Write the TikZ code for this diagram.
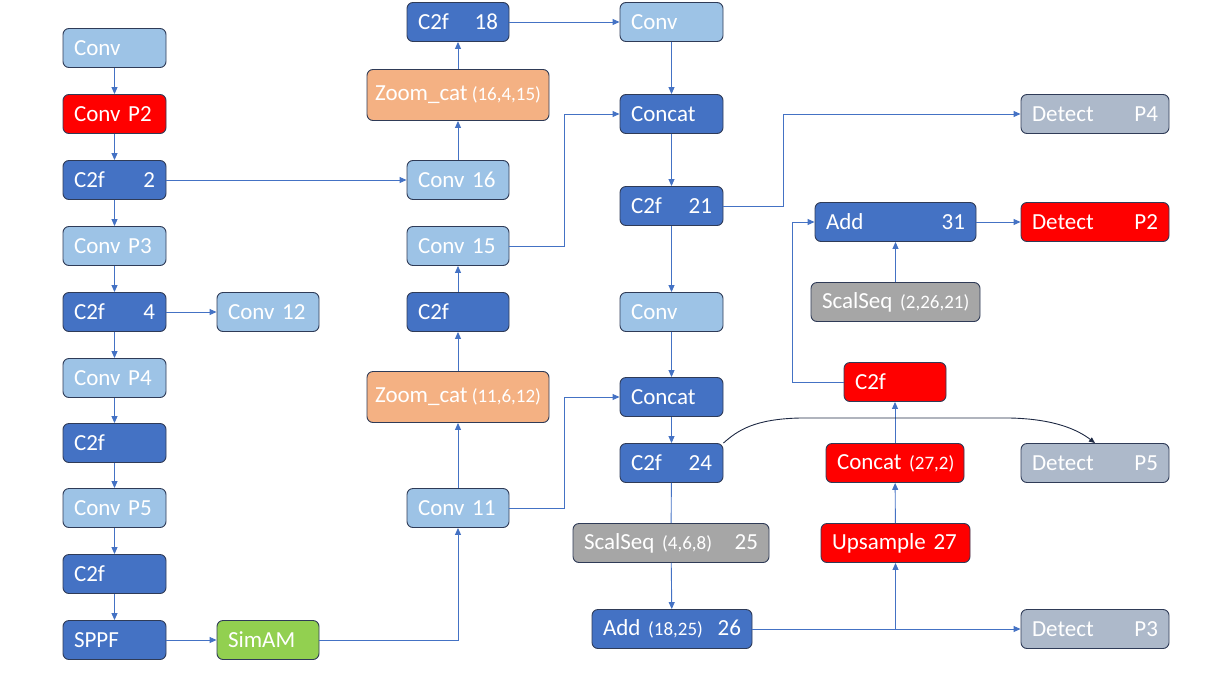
\documentclass[tikz,border=0pt]{standalone}
\usepackage{fontspec}
\setmainfont{Carlito}[WordSpace=0.8]
\usetikzlibrary{arrows.meta}
\definecolor{lb}{HTML}{9DC3E6}
\definecolor{db}{HTML}{4472C4}
\definecolor{rd}{HTML}{FF0000}
\definecolor{og}{HTML}{F4B183}
\definecolor{gy}{HTML}{A6A6A6}
\definecolor{dg}{HTML}{ADB9CA}
\definecolor{gn}{HTML}{92D050}
\definecolor{bd}{HTML}{2F3B57}
\definecolor{ln}{HTML}{4472C4}
\definecolor{dk}{HTML}{1F2A44}
\newcommand{\sm}[1]{{\fontsize{19}{21}\selectfont #1}}
\tikzset{
  box/.style={draw=bd, line width=0.9pt, rounded corners=6pt, minimum height=39pt,
    inner xsep=11pt, inner ysep=0pt, text=white, align=left,
    font=\fontsize{23}{26}\selectfont},
  lbox/.style={box, fill=lb},
  dbox/.style={box, fill=db},
  rbox/.style={box, fill=rd},
  obox/.style={box, fill=og, minimum height=51pt, minimum width=182pt, inner xsep=4pt, align=center},
  gbox/.style={box, fill=gy},
  detbox/.style={box, fill=dg, text width=126pt},
  grbox/.style={box, fill=gn},
  conn/.style={draw=ln, line width=0.9pt, -{Triangle[length=7pt,width=6pt]}},
  plain/.style={draw=ln, line width=0.9pt},
  curvy/.style={draw=dk, line width=0.9pt, -{Triangle[length=6pt,width=5pt]}}
}
\begin{document}
\begin{tikzpicture}[x=1pt,y=-1pt]
\useasboundingbox (0,0) rectangle (1222,688);
% left column
\node[lbox, text width=81pt] (c0) at (114.5,48) {Conv};
\node[rbox, text width=81pt] (c1) at (114.5,114) {Conv P2};
\node[dbox, text width=81pt] (c2) at (114.5,180) {C2f\hfill 2\hspace{7pt}};
\node[lbox, text width=81pt] (c3) at (114.5,246) {Conv P3};
\node[dbox, text width=81pt] (c4) at (114.5,312) {C2f\hfill 4\hspace{7pt}};
\node[lbox, text width=81pt] (c5) at (114.5,378) {Conv P4};
\node[dbox, text width=81pt] (c6) at (114.5,443) {C2f};
\node[lbox, text width=81pt] (c7) at (114.5,508) {Conv P5};
\node[dbox, text width=81pt] (c8) at (114.5,574) {C2f};
\node[dbox, text width=81pt] (c9) at (114.5,640) {SPPF};
\node[lbox, text width=80pt] (conv12) at (268,312) {Conv 12};
\node[grbox, text width=80pt] (simam) at (268,640) {SimAM};
% middle column
\node[dbox, text width=80pt] (c18) at (458,22) {C2f\hfill 18};
\node[obox] (zc1) at (458,95) {Zoom\_cat \sm{(16,4,15)}};
\node[lbox, text width=80pt] (conv16) at (458,180) {Conv 16};
\node[lbox, text width=80pt] (conv15) at (458,246) {Conv 15};
\node[dbox, text width=80pt] (c2fm) at (458,312) {C2f};
\node[obox] (zc2) at (458,397) {Zoom\_cat \sm{(11,6,12)}};
\node[lbox, text width=80pt] (conv11) at (458,508) {Conv 11};
% third column
\node[lbox, text width=81pt] (convA) at (671.5,22) {Conv};
\node[dbox, text width=81pt] (catA) at (671.5,114) {Concat};
\node[dbox, text width=81pt] (c21) at (671.5,206) {C2f\hfill 21};
\node[lbox, text width=81pt] (convB) at (671.5,312) {Conv};
\node[dbox, text width=81pt] (catB) at (671.5,397) {Concat};
\node[dbox, text width=81pt] (c24) at (671.5,463) {C2f\hfill 24};
\node[gbox, text width=174pt] (ss25) at (671,543) {ScalSeq \sm{(4,6,8)}\hfill 25\hspace{5pt}};
\node[dbox, text width=138pt] (add26) at (672,629) {Add \sm{(18,25)}\hfill 26\hspace{3pt}};
% fourth column
\node[dbox, text width=139pt] (add31) at (895.5,222) {Add\hfill 31};
\node[gbox, text width=147pt] (ss2) at (895.5,302) {\mbox{ScalSeq \sm{(2,26,21)}}};
\node[rbox, text width=80pt] (c2fr) at (895,382) {C2f};
\node[rbox, text width=116pt] (cat27) at (895,463) {\mbox{Concat \sm{(27,2)}}};
\node[rbox, text width=127pt] (up27) at (895.5,543) {\mbox{Upsample 27}};
% detect column
\node[detbox] (dP4) at (1095,114) {Detect\hfill P4};
\node[detbox, fill=rd] (dP2) at (1095,222) {Detect\hfill P2};
\node[detbox] (dP5) at (1095,463) {Detect\hfill P5};
\node[detbox] (dP3) at (1095,629) {Detect\hfill P3};
% coordinates
\coordinate (j15) at (564,246);
\coordinate (j11) at (564,508);
\coordinate (j21) at (783,206);
\coordinate (jr) at (792,382);
\coordinate (j26) at (895.5,629);
% left column connectors
\draw[conn] (c0) -- (c1);
\draw[conn] (c1) -- (c2);
\draw[conn] (c2) -- (c3);
\draw[conn] (c3) -- (c4);
\draw[conn] (c4) -- (c5);
\draw[conn] (c5) -- (c6);
\draw[conn] (c6) -- (c7);
\draw[conn] (c7) -- (c8);
\draw[conn] (c8) -- (c9);
\draw[conn] (c2) -- (conv16);
\draw[conn] (c4) -- (conv12);
\draw[conn] (c9) -- (simam);
\draw[conn] (simam) -| (conv11);
% middle
\draw[conn] (conv11) -- (zc2);
\draw[conn] (zc2) -- (c2fm);
\draw[conn] (c2fm) -- (conv15);
\draw[conn] (conv16) -- (zc1);
\draw[conn] (zc1) -- (c18);
\draw[conn] (conv15.east) -- (j15) |- (catA.west);
\draw[conn] (conv11.east) -- (j11) |- (catB.west);
\draw[conn] (c18) -- (convA);
% third column
\draw[conn] (convA) -- (catA);
\draw[conn] (catA) -- (c21);
\draw[conn] (c21) -- (convB);
\draw[conn] (convB) -- (catB);
\draw[conn] (catB) -- (c24);
\draw[plain] (c24) -- (ss25);
\draw[conn] (ss25) -- (add26);
\draw[conn] (c21.east) -- (j21) |- (dP4.west);
% right part
\draw[conn] (add26) -- (dP3);
\draw[conn] (j26) -- (up27);
\draw[conn] (up27) -- (cat27);
\draw[conn] (cat27) -- (c2fr);
\draw[conn] (c2fr.west) -- (jr) |- (add31.west);
\draw[conn] (ss2) -- (add31);
\draw[conn] (add31) -- (dP2);
\draw[curvy] (c24.north east) .. controls (738,430) and (755,419) .. (800,418) -- (1010,418) .. controls (1055,419) and (1078,430) .. (dP5.north);
\end{tikzpicture}
\end{document}
